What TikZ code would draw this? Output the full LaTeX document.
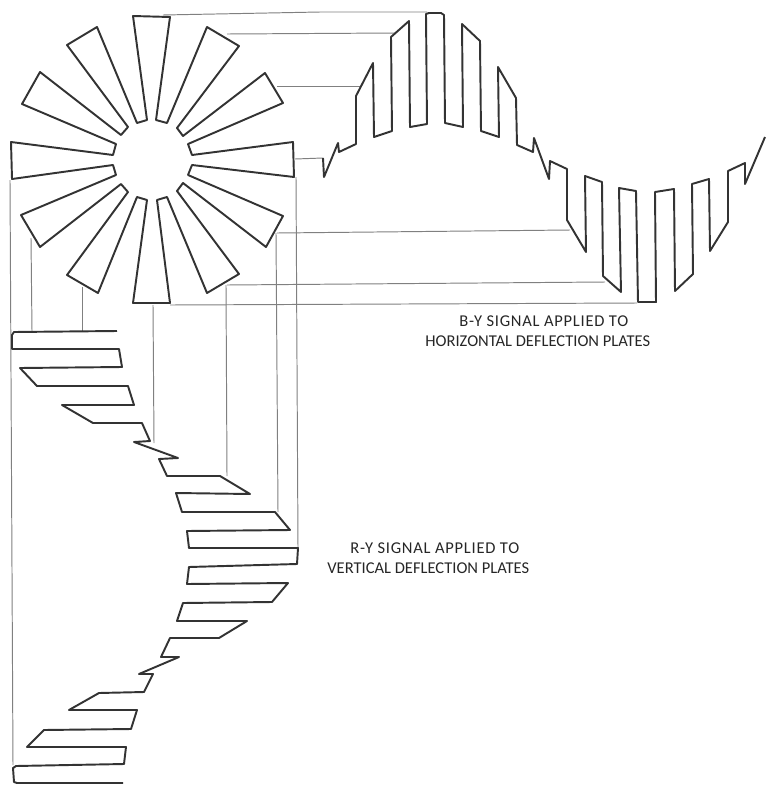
\documentclass[tikz,border=0pt]{standalone}
\usepackage{tikz}
\usepackage{fontspec}
\setmainfont{Carlito}
\newfontfamily\widefont[LetterSpace=4.5]{Carlito}
\tikzset{
  trace/.style={line width=1.1pt, line join=round, color=black!80},
  guide/.style={line width=0.55pt, color=black!50},
  signal/.style={font=\fontsize{9.4pt}{11pt}\selectfont, anchor=west, inner sep=0pt, color=black!85},
  signalwide/.style={signal, font=\fontsize{9.4pt}{11pt}\widefont}
}
\begin{document}
\begin{tikzpicture}[x=0.02cm,y=-0.02cm]
\useasboundingbox (0,0) rectangle (766,785);
% guide lines, horizontal then vertical
\draw[guide] (163,15) -- (320,12) -- (427,12);
\draw[guide] (227,34) -- (395,33);
\draw[guide] (277,86) -- (360,86);
\draw[guide] (295,159) -- (323,158);
\draw[guide] (277,233) -- (570,230);
\draw[guide] (227,285) -- (605,282);
\draw[guide] (170,305) -- (637,303);
\draw[guide] (10,180) -- (13,765);
\draw[guide] (31,238) -- (32,331);
\draw[guide] (82,287) -- (82,331);
\draw[guide] (153,305) -- (154,443);
\draw[guide] (226,285) -- (227,476);
\draw[guide] (276,233) -- (278,512);
\draw[guide] (296,177) -- (298,548);
% color wheel pattern
\draw[trace] (67,45) -- (97,27) -- (137,123) -- (147,120) -- (133,16) -- (170,17) -- (156,120) -- (167,123) -- (207,27) -- (239,46) -- (177,128) -- (183,136) -- (265,73) -- (283,103) -- (188,144) -- (192,155) -- (293,142) -- (294,177) -- (192,165) -- (188,175) -- (283,216) -- (266,247) -- (183,183) -- (177,191) -- (239,274) -- (207,293) -- (167,197) -- (157,200) -- (170,303) -- (133,303) -- (147,200) -- (137,197) -- (98,293) -- (67,275) -- (128,192) -- (121,184) -- (40,247) -- (21,215) -- (116,175) -- (113,165) -- (12,179) -- (11,142) -- (113,155) -- (116,144) -- (22,104) -- (40,72) -- (121,135) -- (128,127) -- cycle;
% B-Y signal
\draw[trace] (323,158) -- (324,177) -- (338,143) -- (339,152) -- (356,144) -- (356,96) -- (373,63) -- (374,137) -- (392,131) -- (391,37) -- (409,21) -- (410,127) -- (427,124) -- (426,14) -- (429,13) -- (441,13) -- (444,15) -- (445,123) -- (463,127) -- (462,24) -- (480,41) -- (481,131) -- (499,137) -- (498,67) -- (516,98) -- (517,145) -- (533,152) -- (534,138) -- (549,179) -- (550,161) -- (567,169) -- (567,220) -- (586,252) -- (585,176) -- (602,182) -- (603,276) -- (621,292) -- (619,188) -- (636,191) -- (638,302) -- (656,302) -- (655,192) -- (674,189) -- (675,291) -- (693,274) -- (692,184) -- (709,179) -- (710,251) -- (728,222) -- (728,171) -- (745,163) -- (745,184) -- (765,137);
% R-Y signal
\draw[trace] (117,331) -- (14,332) -- (12,335) -- (12,349) -- (119,349) -- (122,367) -- (20,368) -- (37,386) -- (128,386) -- (134,405) -- (62,405) -- (93,423) -- (142,423) -- (150,441) -- (134,442) -- (178,458) -- (159,459) -- (167,476) -- (220,476) -- (250,494) -- (176,493) -- (182,512) -- (275,512) -- (290,530) -- (187,531) -- (189,548) -- (298,548) -- (297,564) -- (189,567) -- (187,584) -- (288,583) -- (272,602) -- (183,603) -- (177,621) -- (247,621) -- (219,638) -- (170,638) -- (161,657) -- (179,657) -- (139,674) -- (153,674) -- (144,692) -- (99,693) -- (69,710) -- (137,710) -- (131,729) -- (44,730) -- (27,747) -- (126,747) -- (124,764) -- (16,766) -- (13,768) -- (14,782) -- (17,783) -- (123,783);
% labels
\node[signalwide] (byone) at (459,321) {B-Y SIGNAL APPLIED TO};
\node[signal] (bytwo) at (425,341) {HORIZONTAL DEFLECTION PLATES};
\node[signalwide] (ryone) at (350,548) {R-Y SIGNAL APPLIED TO};
\node[signal] (rytwo) at (327,568) {VERTICAL DEFLECTION PLATES};
\end{tikzpicture}
\end{document}
